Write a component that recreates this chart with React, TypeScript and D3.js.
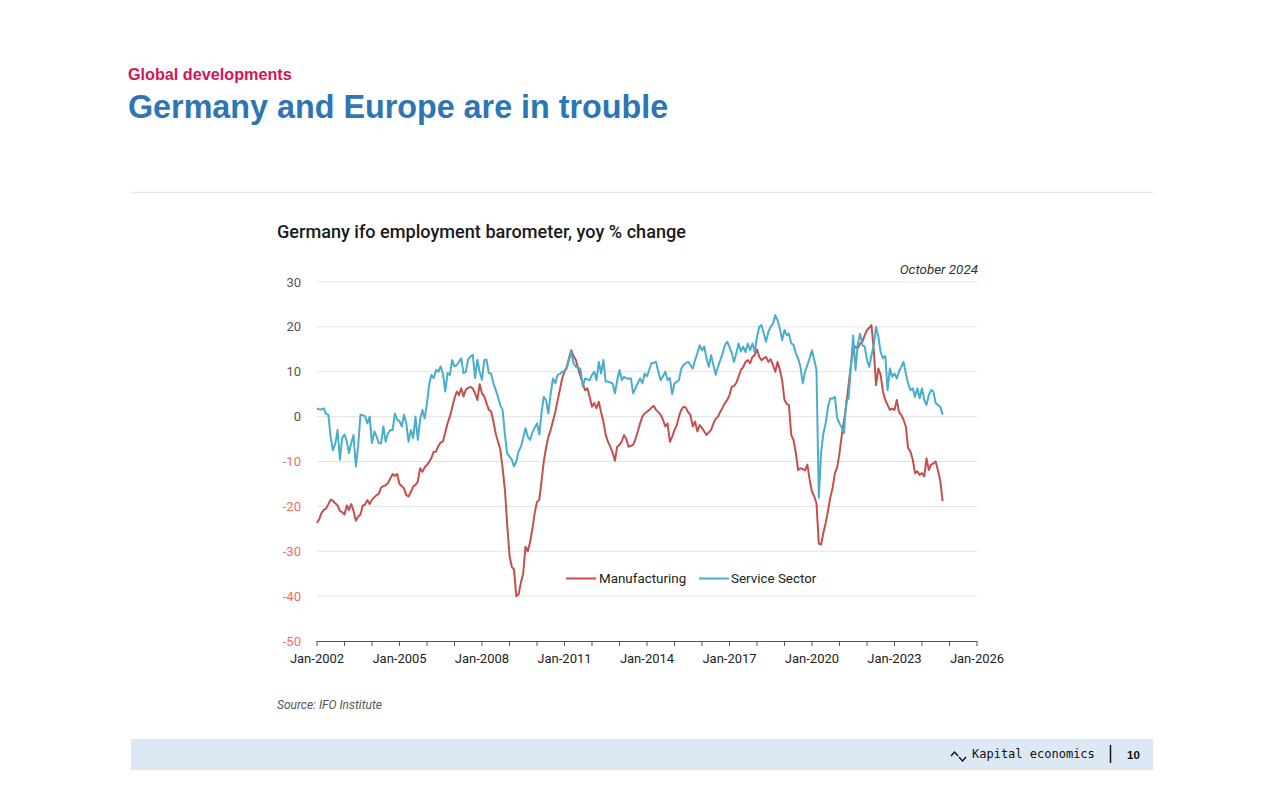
import React from "react";
import * as d3 from "d3";

// ---- Data (monthly, Jan-2002 .. Oct-2024) ----
const manufacturing: number[] = [
  // 2002
  -23.7, -22.8, -21.5, -20.8, -20.5, -19.5, -18.5, -18.8, -19.3, -19.8, -21.0, -21.3,
  // 2003
  -21.8, -19.8, -20.8, -19.5, -21.0, -23.2, -22.3, -21.8, -19.8, -19.6, -18.6, -19.5,
  // 2004
  -18.5, -18.0, -17.5, -17.2, -15.8, -15.5, -15.3, -14.8, -13.8, -12.8, -13.2, -12.8,
  // 2005
  -15.0, -15.5, -16.0, -17.5, -17.8, -16.8, -15.6, -15.2, -14.5, -11.5, -12.3, -11.3,
  // 2006
  -10.8, -10.0, -9.2, -7.8, -7.8, -6.5, -5.8, -5.5, -3.5, -1.5, 0.0, 2.0,
  // 2007
  4.1, 5.6, 4.8, 6.3, 4.5, 6.0, 6.4, 6.6, 6.3, 5.2, 3.7, 7.2,
  // 2008
  5.2, 4.5, 3.0, 1.5, 1.2, -1.1, -3.7, -5.6, -7.4, -11.5, -16.3, -24.0,
  // 2009
  -31.0, -33.5, -34.0, -40.0, -39.6, -37.0, -35.0, -29.0, -30.0, -28.0, -25.0, -21.5,
  // 2010
  -19.0, -18.5, -14.5, -10.0, -7.0, -4.5, -3.0, -1.0, 1.0, 3.5, 6.0, 8.5,
  // 2011
  10.0, 11.1, 13.0, 14.8, 13.5, 12.6, 10.7, 9.0, 7.4, 5.9, 6.3, 4.4,
  // 2012
  2.2, 3.0, 1.9, 3.3, 1.0, -1.1, -4.0, -5.6, -6.7, -8.0, -9.8, -6.7,
  // 2013
  -6.3, -5.5, -4.1, -5.0, -6.7, -6.5, -6.3, -5.0, -3.3, -1.5, 0.0, 0.7,
  // 2014
  1.1, 1.5, 2.0, 2.4, 1.5, 1.0, 0.4, -0.7, -2.2, -1.5, -5.6, -4.5,
  // 2015
  -3.0, -1.9, 0.0, 1.5, 2.2, 2.0, 1.0, 0.4, -2.2, -1.1, -3.3, -1.9,
  // 2016
  -2.5, -3.3, -4.1, -3.5, -3.0, -1.5, -0.5, 0.0, 1.1, 2.0, 3.0, 3.7,
  // 2017
  4.8, 6.7, 6.8, 7.5, 8.9, 10.4, 11.0, 12.2, 12.6, 11.9, 13.3, 13.7,
  // 2018
  15.0, 13.3, 12.6, 13.0, 13.3, 12.2, 12.8, 11.5, 10.0, 12.2, 10.4, 8.1,
  // 2019
  3.7, 2.8, 2.6, -4.1, -5.2, -8.1, -11.9, -11.5, -11.7, -12.0, -10.7, -14.0,
  // 2020
  -16.7, -17.8, -19.3, -28.3, -28.5, -25.9, -23.7, -21.0, -18.0, -15.9, -12.6, -11.3,
  // 2021
  -8.1, -4.0, -1.0, 2.5, 7.0, 11.5, 14.8, 15.6, 15.2, 16.3, 16.7, 18.1,
  // 2022
  19.3, 19.8, 20.4, 14.8, 7.0, 10.7, 9.3, 5.6, 3.7, 2.6, 1.5, 1.8,
  // 2023
  1.5, 3.7, 1.1, 0.4, -0.7, -2.2, -7.0, -7.8, -9.6, -12.6, -12.2, -13.0,
  // 2024
  -12.6, -13.3, -9.3, -11.9, -10.7, -10.4, -10.0, -12.0, -14.4, -18.8,
];

const serviceSector: number[] = [
  // 2002
  1.85, 1.6, 1.6, 1.85, 0.6, 0.4, -4.5, -7.5, -6.0, -3.0, -9.6, -4.8,
  // 2003
  -4.0, -5.5, -8.1, -5.9, -4.1, -11.1, -6.7, 0.4, 0.3, 0.1, -1.5, 0.0,
  // 2004
  -5.9, -3.3, -4.4, -5.9, -6.0, -2.2, -5.6, -3.7, -3.0, -3.0, 0.7, -0.7,
  // 2005
  -1.0, -2.2, 0.4, -1.5, -5.6, -3.0, -4.8, 0.0, -5.2, -0.7, 1.5, -0.4,
  // 2006
  3.0, 7.4, 9.3, 8.6, 10.4, 10.0, 11.2, 9.5, 5.6, 9.7, 9.3, 12.6,
  // 2007
  11.2, 11.5, 12.2, 13.0, 9.7, 10.0, 12.7, 13.4, 13.8, 8.6, 12.7, 10.0,
  // 2008
  8.2, 12.6, 12.7, 9.7, 9.6, 7.4, 6.0, 4.4, 2.5, 1.5, -4.0, -8.2,
  // 2009
  -8.9, -9.6, -11.1, -10.0, -7.8, -6.7, -4.8, -2.6, -4.5, -5.2, -3.5, -2.5,
  // 2010
  -1.5, -4.0, 0.7, 4.4, 3.7, 0.7, 5.0, 8.5, 7.4, 9.3, 9.5, 10.0,
  // 2011
  10.2, 10.7, 12.6, 14.4, 11.9, 11.1, 10.9, 10.7, 6.7, 8.5, 8.3, 8.1,
  // 2012
  9.3, 10.0, 8.1, 12.2, 9.6, 12.6, 7.8, 7.8, 7.6, 7.4, 5.2, 8.1,
  // 2013
  10.4, 8.1, 8.9, 8.5, 8.5, 8.5, 5.2, 6.3, 7.5, 8.5, 7.4, 9.6,
  // 2014
  9.0, 10.5, 11.9, 12.0, 12.2, 10.0, 8.1, 9.0, 10.0, 8.1, 8.6, 5.0,
  // 2015
  7.4, 7.8, 8.1, 10.7, 11.5, 11.9, 12.2, 11.5, 10.7, 12.6, 14.1, 15.9,
  // 2016
  14.8, 15.6, 13.0, 11.1, 13.7, 11.5, 9.3, 11.1, 12.6, 14.1, 15.9, 16.7,
  // 2017
  15.5, 14.1, 12.2, 14.1, 16.3, 14.5, 15.6, 14.4, 16.3, 14.8, 16.3, 14.4,
  // 2018
  17.8, 20.0, 20.4, 18.5, 16.7, 18.9, 20.0, 20.7, 22.6, 21.5, 19.6, 17.0,
  // 2019
  19.3, 18.1, 18.5, 16.3, 16.0, 14.1, 13.0, 11.1, 7.4, 10.0, 11.5, 13.0,
  // 2020
  14.8, 12.6, 10.4, -18.1, -8.0, -3.7, -1.5, 2.2, 4.1, 4.0, 4.4, -0.4,
  // 2021
  -1.5, -2.5, -3.7, 3.7, 4.0, 11.1, 18.1, 10.4, 16.3, 18.5, 15.9, 15.6,
  // 2022
  12.6, 11.1, 13.7, 15.9, 20.0, 17.8, 14.4, 13.0, 13.5, 5.9, 10.7, 8.9,
  // 2023
  9.6, 8.5, 10.0, 11.1, 12.2, 9.6, 7.4, 5.9, 6.3, 4.4, 6.3, 4.1,
  // 2024
  6.3, 3.7, 2.6, 4.8, 5.9, 5.6, 3.0, 2.6, 2.2, 0.4,
];

const yTicks: number[] = [30, 20, 10, 0, -10, -20, -30, -40, -50];
const xLabelYears: number[] = [2002, 2005, 2008, 2011, 2014, 2017, 2020, 2023, 2026];
const seriesNames: string[] = ["Manufacturing", "Service Sector"];
const seriesColors: string[] = ["#c4504d", "#49aecb"];

const START_YEAR = 2002;

export default function App() {
  const x = d3
    .scaleTime()
    .domain([new Date(2002, 0, 1), new Date(2026, 0, 1)])
    .range([317, 977]);
  const y = d3.scaleLinear().domain([-50, 30]).range([641, 282]);

  const toPoints = (vals: number[]) =>
    vals.map((v, i) => ({ date: new Date(START_YEAR, i, 1), v }));

  const line = d3
    .line<{ date: Date; v: number }>()
    .x((d) => x(d.date))
    .y((d) => y(d.v))
    .curve(d3.curveLinear);

  const yearTicks = x.ticks(d3.timeYear.every(1) as any);
  const font = "Roboto, 'Noto Sans', sans-serif";

  return (
    <svg
      width={1280}
      height={803}
      style={{ position: "fixed", left: 0, top: 0, background: "#fff" }}
    >
      <rect x={0} y={0} width={1280} height={803} fill="#fff" />
      {/* Header */}
      <text
        x={128}
        y={80}
        fontFamily="'Liberation Sans', Arial, sans-serif"
        fontWeight="bold"
        fontSize={16.2}
        fill="#d4145a"
      >
        Global developments
      </text>
      <text
        x={128}
        y={118}
        fontFamily="'Liberation Sans', Arial, sans-serif"
        fontWeight="bold"
        fontSize={32.3}
        fill="#2e75b6"
      >
        Germany and Europe are in trouble
      </text>
      <line x1={131} x2={1153} y1={192.5} y2={192.5} stroke="#dce8f4" strokeWidth={1.5} />

      {/* Chart title */}
      <text x={277} y={238} fontFamily={font} fontSize={18.1} fontWeight={500} fill="#1a1a1a">
        Germany ifo employment barometer, yoy % change
      </text>
      <text
        x={978}
        y={274}
        textAnchor="end"
        fontFamily={font}
        fontStyle="italic"
        fontSize={13.4}
        fill="#333"
      >
        October 2024
      </text>

      {/* Grid + y labels */}
      {yTicks.map((t) => (
        <g key={t}>
          {t !== -50 && (
            <line x1={317} x2={977} y1={y(t)} y2={y(t)} stroke="#e3e3e3" strokeWidth={1} />
          )}
          <text
            x={301}
            y={y(t) + 4.5}
            textAnchor="end"
            fontFamily={font}
            fontSize={13}
            fill={t < 0 ? "#f26a6a" : "#555"}
          >
            {t}
          </text>
        </g>
      ))}

      {/* X axis */}
      <line x1={317} x2={977} y1={641.5} y2={641.5} stroke="#555" strokeWidth={1} />
      {yearTicks.map((d) => (
        <line
          key={d.getTime()}
          x1={x(d)}
          x2={x(d)}
          y1={641}
          y2={646}
          stroke="#555"
          strokeWidth={1}
        />
      ))}
      {xLabelYears.map((yr) => (
        <text
          key={yr}
          x={x(new Date(yr, 0, 1))}
          y={663}
          textAnchor="middle"
          fontFamily={font}
          fontSize={13}
          fill="#222"
        >
          {`Jan-${yr}`}
        </text>
      ))}

      {/* Lines */}
      <path
        d={line(toPoints(manufacturing)) || ""}
        fill="none"
        stroke={seriesColors[0]}
        strokeWidth={2}
        strokeLinejoin="round"
      />
      <path
        d={line(toPoints(serviceSector)) || ""}
        fill="none"
        stroke={seriesColors[1]}
        strokeWidth={2}
        strokeLinejoin="round"
      />

      {/* Legend */}
      <line x1={566} x2={596} y1={578.5} y2={578.5} stroke={seriesColors[0]} strokeWidth={2} />
      <text x={599} y={583} fontFamily={font} fontSize={13.4} fill="#222">
        {seriesNames[0]}
      </text>
      <line x1={699} x2={729} y1={578.5} y2={578.5} stroke={seriesColors[1]} strokeWidth={2} />
      <text x={731} y={583} fontFamily={font} fontSize={13.4} fill="#222">
        {seriesNames[1]}
      </text>

      {/* Source */}
      <text x={277} y={709} fontFamily={font} fontStyle="italic" fontSize={12} fill="#555">
        Source: IFO Institute
      </text>

      {/* Footer */}
      <rect x={131} y={739} width={1022} height={31} fill="#dde8f5" />
      <path
        d="M951,756 L954.5,752 L958,756 M959,757 L962.5,761 L966,757"
        fill="none"
        stroke="#111"
        strokeWidth={1.4}
      />
      <text
        x={972}
        y={758}
        fontFamily="'DejaVu Sans Mono', 'Liberation Mono', monospace"
        fontSize={12}
        fill="#111"
      >
        Kapital economics
      </text>
      <line x1={1110.5} x2={1110.5} y1={745} y2={763} stroke="#111" strokeWidth={1.5} />
      <text
        x={1127}
        y={759}
        fontFamily="'Liberation Sans', Arial, sans-serif"
        fontWeight="bold"
        fontSize={11.5}
        fill="#111"
      >
        10
      </text>
    </svg>
  );
}
